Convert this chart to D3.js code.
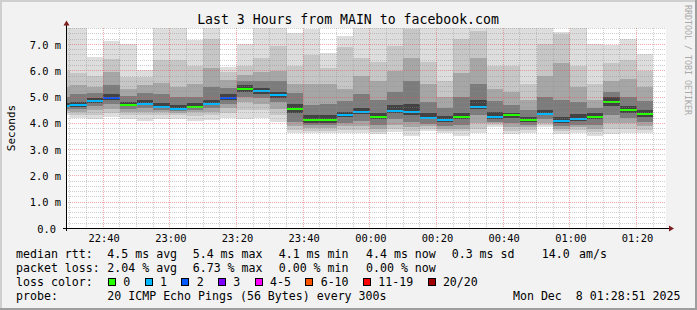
<!DOCTYPE html>
<html><head><meta charset="utf-8">
<script src="https://cdn.jsdelivr.net/npm/d3@7"></script>
<style>
html,body{margin:0;padding:0;background:#f2f2f2;}
svg{display:block;}
text{font-family:"DejaVu Sans Mono",monospace;fill:#000;white-space:pre;}
</style>
</head><body><svg id="c" width="697" height="310" xml:space="preserve"></svg>
<script>
// ---------------- data ----------------
const titleText = "Last 3 Hours from MAIN to facebook.com";
const graphStart = "2025-12-07T22:28:51Z";
const graphEnd = "2025-12-08T01:28:51Z";
const stepSeconds = 300;
const binEnds = ["22:30","22:35","22:40","22:45","22:50","22:55","23:00","23:05","23:10","23:15","23:20","23:25",
  "23:30","23:35","23:40","23:45","23:50","23:55","00:00","00:05","00:10","00:15","00:20","00:25",
  "00:30","00:35","00:40","00:45","00:50","00:55","01:00","01:05","01:10","01:15","01:20","01:25"];
const medianMs = [4.66,4.71,4.86,4.98,4.71,4.75,4.64,4.56,4.64,4.74,4.96,5.32,
  5.24,5.09,4.56,4.13,4.13,4.33,4.43,4.26,4.48,4.43,4.21,4.11,
  4.26,4.64,4.26,4.30,4.13,4.36,4.09,4.18,4.26,4.81,4.52,4.36];
const lostPings = [1,1,1,2,0,1,1,1,0,1,2,0, 1,1,0,0,0,1,1,0,1,1,1,1, 0,1,1,0,0,1,1,1,0,0,0,0];
// sorted ping rtts (ms): 1st, 3rd, 5th, 7th, 9th, 12th, 14th, 16th, 18th, 20th of 20
const ping01 = [4.30,4.22,4.16,4.26,4.16,4.09,4.16,4.16,4.09,4.13,4.20,4.15, 4.20,4.06,3.65,3.62,3.62,3.65,3.65,3.60,3.68,3.53,3.72,3.65, 3.53,3.65,3.85,3.59,3.65,3.85,3.59,3.65,3.53,3.59,3.65,3.65];
const ping03 = [4.40,4.32,4.32,4.40,4.30,4.30,4.30,4.30,4.28,4.30,4.40,4.50, 4.50,4.30,3.75,3.72,3.72,3.75,3.75,3.68,3.80,3.70,3.80,3.72, 3.70,3.80,3.92,3.70,3.75,3.95,3.70,3.75,3.68,3.80,3.80,3.75];
const ping05 = [4.48,4.42,4.50,4.55,4.45,4.45,4.42,4.40,4.42,4.45,4.60,4.80, 4.75,4.55,3.90,3.82,3.82,3.88,3.90,3.80,3.95,3.85,3.88,3.80, 3.80,4.00,4.00,3.85,3.85,4.03,3.80,3.85,3.80,4.00,4.00,3.90];
const ping07 = [4.55,4.55,4.65,4.72,4.56,4.60,4.52,4.48,4.52,4.58,4.75,5.00, 4.95,4.80,4.05,3.92,3.92,4.00,4.10,3.95,4.15,4.05,3.98,3.90, 3.95,4.30,4.05,4.00,3.95,4.15,3.90,3.95,3.95,4.30,4.20,4.05];
const ping09 = [4.61,4.64,4.78,4.88,4.65,4.70,4.60,4.53,4.60,4.68,4.88,5.20, 5.12,4.98,4.40,4.02,4.02,4.25,4.35,4.18,4.40,4.30,4.15,4.05, 4.18,4.55,4.15,4.22,4.05,4.30,4.00,4.10,4.15,4.65,4.40,4.25];
const ping12 = [4.78,4.82,4.98,5.12,4.82,4.88,4.78,4.70,4.76,4.90,5.10,5.45, 5.35,5.20,4.72,4.30,4.30,4.45,4.60,4.40,4.70,4.75,4.40,4.28, 4.40,4.90,4.45,4.40,4.25,4.50,4.25,4.35,4.40,5.00,4.65,4.50];
const ping14 = [5.00,5.10,5.15,5.45,5.05,5.15,5.10,5.00,5.00,5.40,5.35,5.60, 5.60,5.60,5.17,4.70,4.75,4.85,5.10,4.90,5.20,5.60,4.80,4.60, 5.00,5.50,4.85,4.70,4.50,5.00,4.90,4.80,4.60,5.20,5.00,4.85];
const ping16 = [5.40,5.45,5.40,5.95,5.30,5.45,5.55,5.40,5.50,6.10,5.65,5.85, 5.95,6.00,5.50,5.50,5.50,5.30,5.80,5.60,6.00,6.50,5.50,5.00, 5.90,6.50,5.30,5.20,4.90,5.80,6.30,5.40,4.90,5.60,5.70,5.40];
const ping18 = [6.00,5.90,5.80,6.45,5.75,5.75,6.40,6.42,6.20,7.20,5.95,6.20, 6.50,6.95,6.20,6.60,6.10,6.90,6.50,6.35,6.95,7.60,6.35,5.60, 7.20,7.50,6.20,6.20,5.50,7.00,7.40,6.20,5.50,6.30,6.40,6.00];
const ping20 = [7.80,7.80,6.53,7.13,7.00,6.02,7.80,7.80,7.18,7.80,6.15,7.00, 7.80,7.80,7.45,7.60,6.68,7.33,7.80,7.80,7.80,7.80,7.80,7.80, 7.80,7.80,7.80,7.80,7.80,7.80,7.47,7.80,7.00,6.97,7.20,6.64];

const yTicks = [0,1,2,3,4,5,6,7];
const yTickLabels = ["0.0","1.0 m","2.0 m","3.0 m","4.0 m","5.0 m","6.0 m","7.0 m"];
const xTickLabels = ["22:40","23:00","23:20","23:40","00:00","00:20","00:40","01:00","01:20"];
const lossLegend = ["0","1","2","3","4-5","6-10","11-19","20/20"];
const lossUpper = [0,1,2,3,5,10,19,20];
const lossColors = ["#26ff00","#00b8ff","#0059ff","#7e00ff","#ff00ff","#ff5500","#ff0000","#a10000"];
const statsRtt = ["4.5 ms avg","5.4 ms max","4.1 ms min","4.4 ms now","0.3 ms sd","14.0","am/s"];
const statsLoss = ["2.04 % avg","6.73 % max","0.00 % min","0.00 % now"];
const rowLabels = ["median rtt:","packet loss:","loss color:","probe:"];
const probeText = "20 ICMP Echo Pings (56 Bytes) every 300s";
const dateText = "Mon Dec  8 01:28:51 2025";
const yAxisTitle = "Seconds";
const watermark = "RRDTOOL / TOBI OETIKER";

// ---------------- layout ----------------
const W = 697, H = 310;
const P = {left:66, right:666, top:28, bottom:228};
const yTop = 7.6;
const svg = d3.select("#c");

const parseHM = s => { const [h,m] = s.split(":").map(Number); return new Date(Date.UTC(2025, 11, h >= 12 ? 7 : 8, h, m)); };
const x = d3.scaleUtc().domain([new Date(graphStart), new Date(graphEnd)]).range([P.left, P.right]);
const y = d3.scaleLinear().domain([0, yTop]).range([228.5, 28.7]);

// background + shade border
svg.append("rect").attr("width", W).attr("height", H).attr("fill", "#f2f2f2");
svg.append("rect").attr("x",0).attr("y",0).attr("width",W).attr("height",2).attr("fill","#cfcfcf");
svg.append("rect").attr("x",0).attr("y",0).attr("width",2).attr("height",H).attr("fill","#cfcfcf");
svg.append("rect").attr("x",0).attr("y",H-2).attr("width",W).attr("height",2).attr("fill","#9e9e9e");
svg.append("rect").attr("x",W-2).attr("y",0).attr("width",2).attr("height",H).attr("fill","#9e9e9e");

// canvas
svg.append("rect").attr("x",P.left).attr("y",P.top).attr("width",P.right-P.left).attr("height",P.bottom-P.top).attr("fill","#ffffff");

svg.append("defs").append("clipPath").attr("id","pc").append("rect")
  .attr("x",P.left).attr("y",P.top).attr("width",P.right-P.left).attr("height",P.bottom-P.top+0.5);

const bins = binEnds.map((s,i) => ({
  t1: parseHM(s), t0: new Date(parseHM(s).getTime() - stepSeconds*1000),
  med: medianMs[i], loss: lostPings[i],
  p: [ping01[i],ping03[i],ping05[i],ping07[i],ping09[i],ping12[i],ping14[i],ping16[i],ping18[i],ping20[i]]
}));

const layerColors = ["#dddddd","#c6c6c6","#a6a6a6","#7c7c7c","#434343"];
const g = svg.append("g").attr("clip-path","url(#pc)");
layerColors.forEach((col, k) => {
  g.selectAll(null).data(bins).join("rect")
    .attr("x", d => Math.round(x(d.t0)))
    .attr("width", d => Math.round(x(d.t1)) - Math.round(x(d.t0)))
    .attr("y", d => Math.round(y(d.p[9-k])))
    .attr("height", d => Math.max(0, Math.round(y(d.p[k])) - Math.round(y(d.p[9-k]))))
    .attr("fill", col)
    .attr("shape-rendering","crispEdges");
});

// grid
const grid = svg.append("g").attr("shape-rendering","crispEdges");
const minorCol = "rgba(140,140,140,0.42)", majorCol = "rgba(222,80,80,0.5)";
const isMajorV = v => Math.abs(v - Math.round(v)) < 1e-6;
y.ticks(38).filter(v => v > 0 && !isMajorV(v)).forEach(v => {
  const yy = Math.round(y(v) - 0.5) + 0.5;
  grid.append("line").attr("x1",P.left).attr("x2",P.right).attr("y1",yy).attr("y2",yy)
    .attr("stroke",minorCol).attr("stroke-dasharray","1,1");
});
const minorT = d3.utcMinute.every(5).range(x.domain()[0], x.domain()[1]);
const majorT = xTickLabels.map(parseHM);
const majorMs = new Set(majorT.map(d => d.getTime()));
minorT.filter(t => !majorMs.has(t.getTime())).forEach(t => {
  const xx = Math.floor(x(t)) + 0.5;
  grid.append("line").attr("x1",xx).attr("x2",xx).attr("y1",P.top).attr("y2",P.bottom)
    .attr("stroke",minorCol).attr("stroke-dasharray","1,1");
});
yTicks.filter(v => v > 0).forEach(v => {
  const yy = Math.round(y(v) - 0.5) + 0.5;
  grid.append("line").attr("x1",P.left).attr("x2",P.right).attr("y1",yy).attr("y2",yy)
    .attr("stroke",majorCol).attr("stroke-dasharray","1,1");
});
majorT.forEach(t => {
  const xx = Math.floor(x(t)) + 0.5;
  grid.append("line").attr("x1",xx).attr("x2",xx).attr("y1",P.top).attr("y2",P.bottom)
    .attr("stroke",majorCol).attr("stroke-dasharray","1,1");
});

// median lines coloured by loss
const lossIndex = n => lossUpper.findIndex(u => n <= u);
g.selectAll(null).data(bins).join("rect")
  .attr("x", d => Math.round(x(d.t0)))
  .attr("width", d => Math.round(x(d.t1)) - Math.round(x(d.t0)))
  .attr("y", d => Math.round(y(d.med)) - 1)
  .attr("height", 2)
  .attr("fill", d => lossColors[lossIndex(d.loss)])
  .attr("shape-rendering","crispEdges");

// axes lines + arrows
const ax = svg.append("g").attr("shape-rendering","crispEdges");
ax.append("line").attr("x1",63).attr("x2",669).attr("y1",228.5).attr("y2",228.5).attr("stroke","#000");
ax.append("line").attr("x1",66.5).attr("x2",66.5).attr("y1",231).attr("y2",25).attr("stroke","#000");
svg.append("path").attr("d","M669,225.5 L674,228.5 L669,231.5 Z").attr("fill","#7f1f1f");
svg.append("path").attr("d","M63.5,25.5 L66.5,20.5 L69.5,25.5 Z").attr("fill","#7f1f1f");

// x tick labels through axis
const xAxis = d3.axisBottom(x).tickValues(majorT).tickFormat((d,i) => xTickLabels[i]).tickSize(0).tickPadding(0);
const xg = svg.append("g").attr("transform","translate(0,229)").call(xAxis);
xg.select(".domain").remove();
xg.selectAll("text").attr("dy",null).attr("y",12.5).attr("font-size","10.4px")
  .attr("font-family","DejaVu Sans Mono").attr("fill","#000")
  .attr("transform", "translate(0.5,0)");

// y tick labels through axis
const yAxis = d3.axisLeft(y).tickValues(yTicks).tickFormat((d,i) => yTickLabels[i]).tickSize(0).tickPadding(0);
const yg = svg.append("g").call(yAxis);
yg.select(".domain").remove();
yg.selectAll("text").attr("dy",null).attr("font-size","10.4px").attr("font-family","DejaVu Sans Mono").attr("fill","#000")
  .attr("x", (d,i) => yTickLabels[i].includes(" ") ? 61 : 56)
  .attr("y", 3.6);

// title
svg.append("text").attr("x",348).attr("y",23.5).attr("text-anchor","middle").attr("font-size","13.2px").text(titleText);
// y-axis title
svg.append("text").attr("transform","translate(15,128) rotate(-90)").attr("text-anchor","middle").attr("font-size","11px").text(yAxisTitle);
// watermark
svg.append("text").attr("transform","translate(684.5,60) rotate(90)").attr("text-anchor","middle")
  .attr("font-size","8.3px").style("fill","#a9a9a9").text(watermark);

// legend
const legendFont = "11.6px";
const rowY = [258.3, 272, 286.2, 300];
const cols = [107.3, 192.7, 278.7, 366, 451.7, 541.7, 579];
const lg = svg.append("g").attr("font-size", legendFont);
rowLabels.forEach((s,i) => lg.append("text").attr("x",16).attr("y",rowY[i]).text(s));
statsRtt.forEach((s,i) => lg.append("text").attr("x",cols[i]).attr("y",rowY[0]).text(s));
statsLoss.forEach((s,i) => lg.append("text").attr("x",cols[i]).attr("y",rowY[1]).text(s));
let sx = 108;
const cw = 6.98;
lossLegend.forEach((s,i) => {
  lg.append("rect").attr("x",sx+0.5).attr("y",278.5).attr("width",7).attr("height",7)
    .attr("fill",lossColors[i]).attr("stroke","#000").attr("stroke-width",1).attr("shape-rendering","crispEdges");
  lg.append("text").attr("x",sx+15.3).attr("y",rowY[2]).text(s);
  sx += 29.7 + cw*s.length;
});
lg.append("text").attr("x",cols[0]).attr("y",rowY[3]).text(probeText);
lg.append("text").attr("x",680.5).attr("y",rowY[3]).attr("text-anchor","end").attr("xml:space","preserve").text(dateText);
</script>
</body></html>
